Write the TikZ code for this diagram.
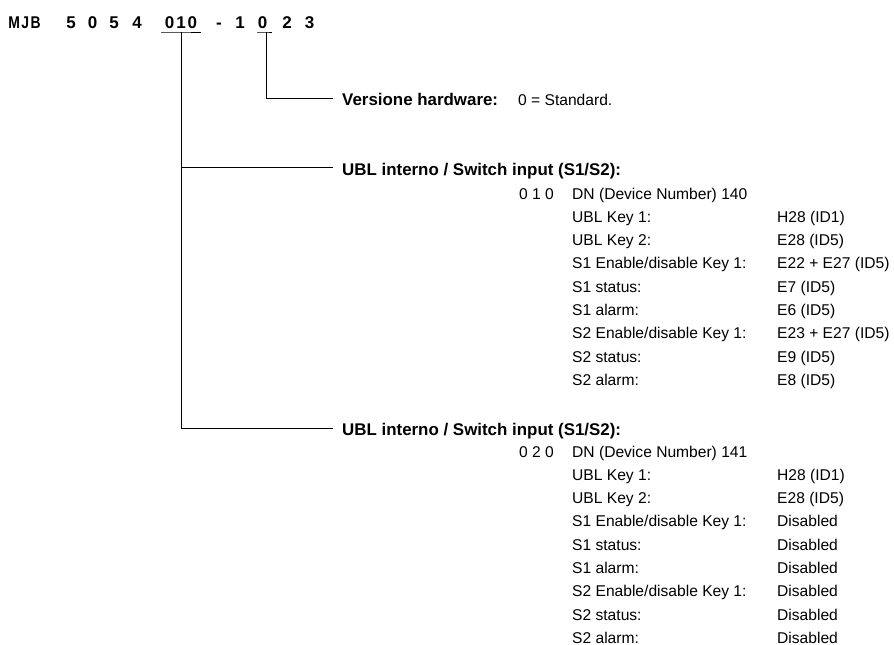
\documentclass[tikz,border=0pt]{standalone}
\usepackage{fontspec}
\setmainfont{Liberation Sans}
\newfontfamily\ttlfont[FakeStretch=0.82]{Liberation Sans}
\begin{document}
\begin{tikzpicture}[x=1pt,y=-1pt,
  ttl/.style={font=\bfseries\fontsize{17}{18}\selectfont, inner sep=0pt, anchor=base},
  ttlc/.style={ttl, font=\ttlfont\bfseries\fontsize{17}{18}\selectfont},
  hd/.style={font=\bfseries\fontsize{16.9}{18}\selectfont, inner sep=0pt, anchor=base west},
  bd/.style={font=\fontsize{15.6}{17}\selectfont, inner sep=0pt, anchor=base west},
  num/.style={font=\fontsize{15.6}{17}\selectfont, inner sep=0pt, anchor=base east},
  ln/.style={line width=1pt, line cap=butt}]
\useasboundingbox (0,0) rectangle (894,645);
% title
\node[ttlc] (tM) at (24.5,28) {M\hspace{1.5pt}J\hspace{1.5pt}B};
\node[ttl] (t5a) at (71,28) {5};
\node[ttl] (t0a) at (92.5,28) {0};
\node[ttl] (t5b) at (114,28) {5};
\node[ttl] (t4) at (137,28) {4};
\node[ttl] (t010) at (181,28) {0\hspace{2pt}1\hspace{2pt}0};
\node[ttl] (tdash) at (219,28) {-};
\node[ttl] (t1) at (240,28) {1};
\node[ttl] (t0b) at (262.5,28) {0};
\node[ttl] (t2) at (287,28) {2};
\node[ttl] (t3) at (309.5,28) {3};
\coordinate (u010) at (181.5,32);
\coordinate (u0) at (266,32);
\draw[ln] (161,32) -- (u010) -- (201,32);
\draw[ln] (257,32) -- (u0) -- (272,32);
% Versione hardware
\node[hd] (vh) at (342,105) {Versione hardware:};
\node[bd] (vhv) at (518,105) {0 = Standard.};
\draw[ln] (u0) |- (333,98);
% headings
\node[hd] (h1) at (342,175) {UBL interno / Switch input (S1/S2):};
\node[hd] (h2) at (342,435) {UBL interno / Switch input (S1/S2):};
\draw[ln] (u010) |- (333,428);
\draw[ln] (181.5,167) -- (333,167);
% block 1
\node[num] (n1) at (554,199) {0 1 0};
\node[bd] (d1) at (572,199) {DN (Device Number) 140};
\foreach \i/\l/\v in {
  1/UBL Key 1:/H28 (ID1),
  2/UBL Key 2:/E28 (ID5),
  3/S1 Enable\slash disable Key 1:/E22 + E27 (ID5),
  4/S1 status:/E7 (ID5),
  5/S1 alarm:/E6 (ID5),
  6/S2 Enable\slash disable Key 1:/E23 + E27 (ID5),
  7/S2 status:/E9 (ID5),
  8/S2 alarm:/E8 (ID5)} {
  \node[bd] (la\i) at (572,199+23.3*\i) {\l};
  \node[bd] (va\i) at (777,199+23.3*\i) {\v};
}
% block 2
\node[num] (n2) at (554,457) {0 2 0};
\node[bd] (d2) at (572,457) {DN (Device Number) 141};
\foreach \i/\l/\v in {
  1/UBL Key 1:/H28 (ID1),
  2/UBL Key 2:/E28 (ID5),
  3/S1 Enable\slash disable Key 1:/Disabled,
  4/S1 status:/Disabled,
  5/S1 alarm:/Disabled,
  6/S2 Enable\slash disable Key 1:/Disabled,
  7/S2 status:/Disabled,
  8/S2 alarm:/Disabled} {
  \node[bd] (lb\i) at (572,457+23.3*\i) {\l};
  \node[bd] (vb\i) at (777,457+23.3*\i) {\v};
}
\end{tikzpicture}
\end{document}
